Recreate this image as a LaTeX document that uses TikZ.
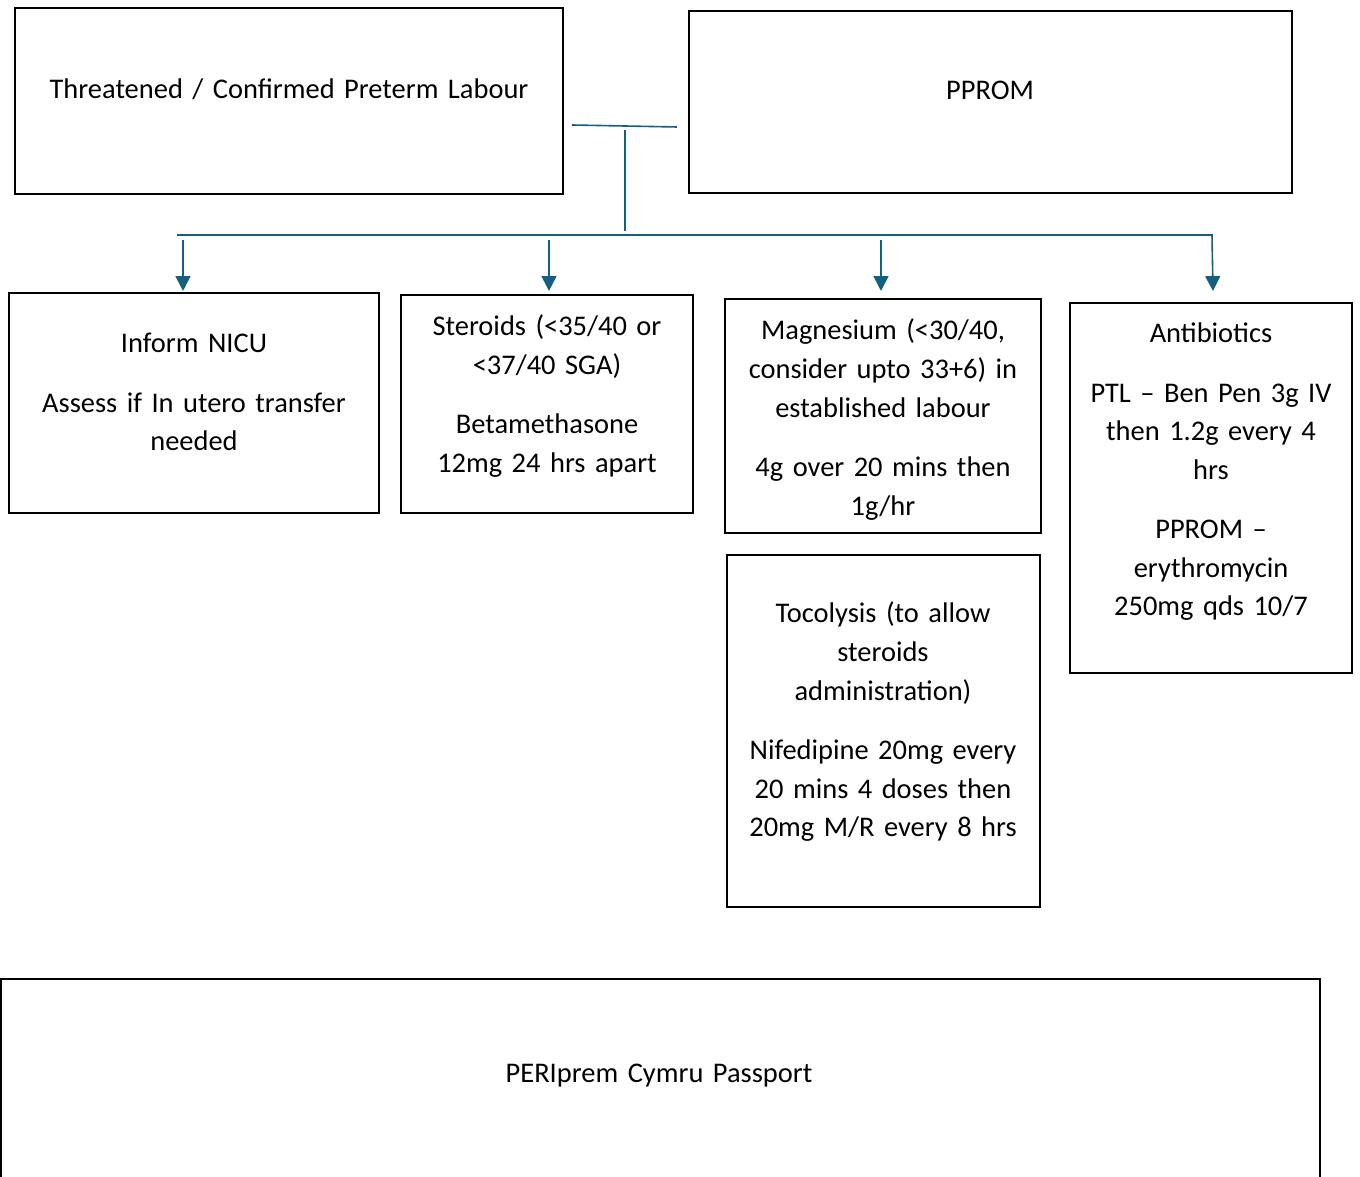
\documentclass[tikz,border=0pt]{standalone}
\usepackage{fontspec}
\setmainfont{Carlito}
\usepackage{tikz}
\usetikzlibrary{positioning, arrows.meta, calc, fit}
\definecolor{LinkBlue}{HTML}{156082}

\begin{document}
\begin{tikzpicture}[x=0.4375pt, y=-0.4375pt,
    box/.style={draw=black, line width=1.1pt, inner sep=0pt},
    txt/.style={text width=#1, align=center, inner sep=0pt, anchor=base,
                font=\fontsize{12.45}{16.9}\selectfont},
    txt/.default=230pt,
    link/.style={LinkBlue, line width=0.7pt},
    arr/.style={link, -{Triangle[length=6.5pt, width=6.5pt]}}]
  \useasboundingbox (0,0) rectangle (1360,1177);

  \node[box, fit={(15,8) (563,194)}] (thr) {};
  \node[box, fit={(689,11) (1292,193)}] (pprom) {};
  \node[box, fit={(9,293) (379,513)}] (nicu) {};
  \node[box, fit={(401,295) (693,513)}] (ster) {};
  \node[box, fit={(725,299) (1041,533)}] (mag) {};
  \node[box, fit={(727,555) (1040,907)}] (toco) {};
  \node[box, fit={(1070,303) (1352,673)}] (anti) {};
  \node[box, fit={(1,979) (1320,1210)}] (pass) {};

  \node[txt=300pt] (thr-t) at (289,99) {Threatened / Confirmed Preterm Labour};
  \node[txt] (pprom-t) at (990,100) {PPROM};
  \node[txt] (nicu-t) at (194,353)
    {Inform NICU\\[9pt]Assess if In utero transfer\\needed};
  \node[txt] (ster-t) at (547,336)
    {Steroids (<35/40 or\\<37/40 SGA)\\[9pt]Betamethasone\\12mg 24 hrs apart};
  \node[txt] (mag-t) at (883,340)
    {Magnesium (<30/40,\\consider upto 33+6) in\\established labour\\[9pt]4g over 20 mins then\\1g/hr};
  \node[txt] (toco-t) at (883,623)
    {Tocolysis (to allow\\steroids\\administration)\\[9pt]Nifedipine 20mg every\\20 mins 4 doses then\\20mg M/R every 8 hrs};
  \node[txt] (anti-t) at (1211,343)
    {Antibiotics\\[9pt]PTL -- Ben Pen 3g IV\\then 1.2g every 4\\hrs\\[9pt]PPROM --\\erythromycin\\250mg qds 10/7};
  \node[txt=400pt] (pass-t) at (659,1082) {PERIprem Cymru Passport};

  \coordinate (join-l) at (572,125);
  \coordinate (join-r) at (677,127);
  \coordinate (stem-t) at (625,130);
  \coordinate (bar-l) at (177,235);
  \coordinate (bar-r) at (1212,235);
  \coordinate (arr-top) at (0,240);
  \coordinate (arr-tip) at (0,291);

  \draw[link] (join-l) -- (join-r);
  \draw[link] (stem-t) -- (stem-t |- 0,231);
  \draw[arr] (bar-l) -- (bar-r) -- ($(bar-r |- arr-tip)+(1,0)$);
  \foreach \n/\dx in {nicu/-11, ster/2, mag/-2}
    \draw[arr] ($(\n.north |- arr-top)+(\dx,0)$) -- ($(\n.north |- arr-tip)+(\dx,0)$);
\end{tikzpicture}
\end{document}
